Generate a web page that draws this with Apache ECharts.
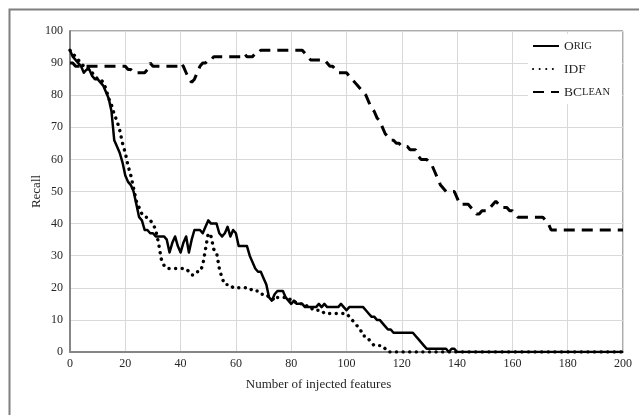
<!DOCTYPE html>
<html>
<head>
<meta charset="utf-8">
<script src="https://cdn.jsdelivr.net/npm/echarts@6/dist/echarts.min.js"></script>
<style>
  html, body { margin: 0; padding: 0; background: #fff; }
  #chart { width: 639px; height: 415px; }
</style>
</head>
<body>
<div id="chart"></div>
<script>
// recall vs number of injected features
var xTicks = [0, 20, 40, 60, 80, 100, 120, 140, 160, 180, 200];
var yTicks = [0, 10, 20, 30, 40, 50, 60, 70, 80, 90, 100];

// ORIG: one value per feature count 0..140, then flat 0 to 200
var origX = [...Array(141).keys(), 200];
var origY = [
  94, 92, 91, 90, 89, 87, 88, 88, 86, 85,
  85, 84, 83, 81, 79, 75, 66, 64, 62, 59,
  55, 53, 52, 50, 46, 42, 41, 38, 38, 37,
  37, 36, 36, 36, 36, 35, 31, 34, 36, 33,
  31, 34, 36, 31, 35, 38, 38, 38, 37, 39,
  41, 40, 40, 40, 37, 36, 37, 39, 36, 38,
  37, 33, 33, 33, 33, 30, 28, 26, 25, 25,
  23, 21, 17, 16, 18, 19, 19, 19, 17, 16,
  15, 16, 15, 15, 15, 14, 14, 14, 14, 14,
  15, 14, 15, 14, 14, 14, 14, 14, 15, 14,
  13, 14, 14, 14, 14, 14, 14, 13, 12, 11,
  11, 10, 10, 9, 8, 7, 7, 6, 6, 6,
  6, 6, 6, 6, 6, 5, 4, 3, 2, 1,
  1, 1, 1, 1, 1, 1, 1, 0, 1, 1,
  0, 0
];

// IDF: 0..115, then flat 0 to 200
var idfX = [...Array(116).keys(), 200];
var idfY = [
  94, 93, 92, 91, 90, 89, 89, 88, 87, 86,
  85, 85, 84, 82, 79, 77, 74, 72, 69, 65,
  62, 58, 55, 51, 47, 45, 43, 42, 42, 41,
  40, 38, 34, 29, 27, 26, 26, 26, 26, 26,
  26, 26, 26, 25, 24, 24, 25, 25, 27, 32,
  37, 36, 32, 31, 26, 23, 21, 21, 21, 20,
  20, 20, 20, 20, 20, 20, 19, 19, 19, 18,
  18, 18, 17, 17, 16, 17, 17, 17, 17, 17,
  16, 16, 15, 15, 15, 15, 14, 14, 13, 13,
  13, 13, 12, 12, 12, 12, 12, 12, 12, 12,
  12, 11, 10, 9, 8, 7, 5, 5, 4, 3,
  2, 2, 2, 2, 1, 0,
  0
];

// BCLEAN: 0..175, then flat 38 to 200
var bcleanX = [...Array(176).keys(), 200];
var bcleanY = [
  90, 90, 89, 89, 89, 89, 89, 89, 89, 89,
  89, 89, 89, 89, 89, 89, 89, 89, 89, 89,
  89, 88, 88, 87, 87, 87, 87, 87, 88, 90,
  89, 89, 89, 89, 89, 89, 89, 89, 89, 89,
  90, 89, 87, 85, 84, 85, 87, 89, 90, 90,
  91, 91, 92, 92, 92, 92, 92, 92, 92, 92,
  92, 92, 92, 93, 92, 92, 92, 93, 93, 94,
  94, 94, 94, 94, 94, 94, 94, 94, 94, 94,
  94, 94, 94, 94, 94, 93, 92, 91, 91, 91,
  91, 91, 91, 90, 89, 89, 88, 87, 87, 87,
  87, 86, 85, 84, 83, 82, 81, 80, 78, 76,
  75, 73, 72, 70, 68, 67, 66, 66, 65, 65,
  64, 64, 64, 63, 63, 63, 61, 60, 60, 60,
  59, 58, 56, 54, 52, 51, 50, 50, 50, 50,
  48, 46, 46, 46, 46, 45, 44, 43, 43, 44,
  44, 44, 45, 46, 47, 46, 45, 45, 45, 44,
  44, 43, 42, 42, 42, 42, 42, 42, 42, 42,
  42, 42, 41, 40, 38, 38,
  38
];

function pairs(xs, ys) {
  return xs.map(function (x, i) { return [x, ys[i]]; });
}

var legendNames = {
  'ORIG': '{a|O}{b|RIG}',
  'IDF': '{a|IDF}',
  'BCLEAN': '{a|BC}{b|LEAN}'
};

var font = 'Liberation Serif';
var textColor = '#262626';

var myChart = echarts.init(document.getElementById('chart'));
var option = {
  animation: false,
  backgroundColor: '#fff',
  textStyle: { fontFamily: font, color: textColor },
  graphic: [{
    type: 'rect',
    left: 7,
    top: 7,
    shape: { width: 700, height: 500 },
    style: { fill: 'none', stroke: '#7f7f7f', lineWidth: 2 },
    silent: true
  }],
  grid: {
    show: true,
    left: 70,
    right: 16,
    top: 31,
    bottom: 63,
    borderColor: '#595959',
    borderWidth: 1,
    backgroundColor: 'transparent'
  },
  legend: {
    orient: 'vertical',
    right: 17,
    top: 34,
    itemWidth: 26,
    itemHeight: 14,
    itemGap: 9,
    padding: [5, 12, 5, 4],
    backgroundColor: '#fff',
    data: ['ORIG', 'IDF', 'BCLEAN'],
    formatter: function (name) { return legendNames[name]; },
    itemStyle: { opacity: 0 },
    textStyle: {
      fontFamily: font,
      color: textColor,
      rich: {
        a: { fontSize: 13.5, fontFamily: font, color: textColor, lineHeight: 14 },
        b: { fontSize: 10.5, fontFamily: font, color: textColor, lineHeight: 14 }
      }
    }
  },
  xAxis: {
    type: 'value',
    min: xTicks[0],
    max: xTicks[xTicks.length - 1],
    interval: xTicks[1] - xTicks[0],
    name: 'Number of injected features',
    nameLocation: 'middle',
    nameGap: 26,
    nameMoveOverlap: false,
    nameTextStyle: { fontFamily: font, fontSize: 13, color: textColor, padding: [0, 56, 0, 0] },
    axisLine: { show: true, lineStyle: { color: '#868686', width: 2 } },
    axisTick: { show: false },
    axisLabel: { fontFamily: font, fontSize: 12, color: textColor, margin: 6 },
    splitLine: { show: true, lineStyle: { color: '#d9d9d9', width: 1 } }
  },
  yAxis: {
    type: 'value',
    min: yTicks[0],
    max: yTicks[yTicks.length - 1],
    interval: yTicks[1] - yTicks[0],
    name: 'Recall',
    nameLocation: 'middle',
    nameRotate: 90,
    nameGap: 27,
    nameMoveOverlap: false,
    nameTextStyle: { fontFamily: font, fontSize: 13, color: textColor },
    axisLine: { show: true, lineStyle: { color: '#868686', width: 2 } },
    axisTick: { show: false },
    axisLabel: { fontFamily: font, fontSize: 12, color: textColor, margin: 7 },
    splitLine: { show: true, lineStyle: { color: '#d9d9d9', width: 1 } }
  },
  series: [
    {
      name: 'ORIG',
      type: 'line',
      data: pairs(origX, origY),
      showSymbol: false,
      symbol: 'none',
      lineStyle: { color: '#000', width: 2.5, join: 'round' },
      itemStyle: { color: '#000' },
      z: 3
    },
    {
      name: 'IDF',
      type: 'line',
      data: pairs(idfX, idfY),
      showSymbol: false,
      symbol: 'none',
      lineStyle: { color: '#000', width: 3.4, type: [0.1, 6.5], cap: 'round' },
      itemStyle: { color: '#000' },
      z: 2
    },
    {
      name: 'BCLEAN',
      type: 'line',
      data: pairs(bcleanX, bcleanY),
      showSymbol: false,
      symbol: 'none',
      lineStyle: { color: '#000', width: 3, type: [11, 7] },
      itemStyle: { color: '#000' },
      z: 2
    }
  ]
};
myChart.setOption(option);
window.addEventListener('resize', function () {
  myChart.resize();
});
</script>
</body>
</html>
